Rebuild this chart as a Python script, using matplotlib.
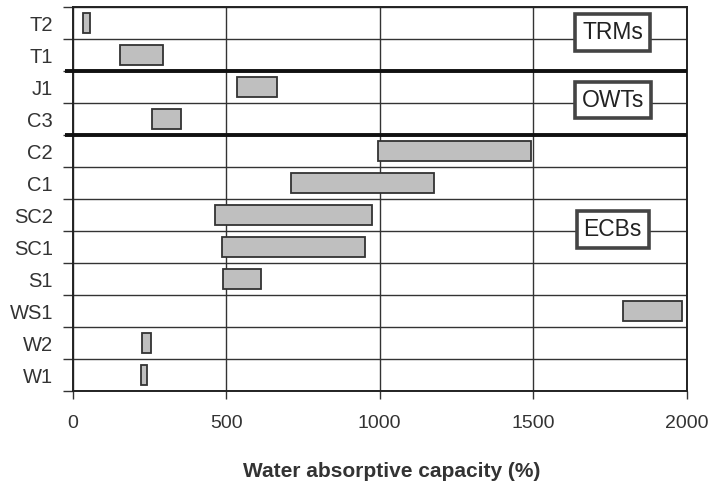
import matplotlib
matplotlib.use("Agg")
import matplotlib.pyplot as plt
from matplotlib.transforms import blended_transform_factory

categories = ["T2", "T1", "J1", "C3", "C2", "C1", "SC2", "SC1", "S1", "WS1", "W2", "W1"]
starts = [35, 155, 537, 260, 995, 711, 463, 485, 490, 1791, 227, 222]
ends = [56, 295, 666, 353, 1493, 1175, 975, 953, 614, 1983, 255, 241]
group_labels = ["TRMs", "OWTs", "ECBs"]
group_label_rows = [0.30, 2.40, 6.46]
group_dividers = [1.5, 3.5]
xticks = [0, 500, 1000, 1500, 2000]

plt.rcParams['font.family'] = ['Liberation Sans', 'DejaVu Sans']

fig = plt.figure(figsize=(7.13, 4.84), dpi=100)
ax = fig.add_axes([0.1017, 0.192, 0.8618, 0.793])

ys = list(range(len(categories)))
widths = [e - s for s, e in zip(starts, ends)]
ax.barh(ys, widths, left=starts, height=0.62, color="#bfbfbf",
        edgecolor="#333333", linewidth=1.3, zorder=3)

ax.set_xlim(0, 2000)
ax.set_ylim(len(categories) - 0.5, -0.5)

ax.set_yticks(ys)
ax.set_yticklabels(categories)
ax.set_yticks([i - 0.5 for i in range(len(categories) + 1)], minor=True)
ax.tick_params(axis='y', which='major', length=0, pad=14, labelsize=14.5, labelcolor="#333333")
ax.tick_params(axis='y', which='minor', length=7, width=1, color="#333333", direction='out')
ax.set_xticks(xticks)
ax.tick_params(axis='x', which='major', length=6, width=1, color="#333333", pad=11,
               labelsize=14, labelcolor="#333333")

ax.grid(True, which='minor', axis='y', color="#333333", linewidth=1.0, zorder=1)
ax.grid(True, which='major', axis='x', color="#333333", linewidth=1.0, zorder=1)
ax.set_axisbelow(True)

for sp in ax.spines.values():
    sp.set_color("#222222")
    sp.set_linewidth(1.4)

trans = blended_transform_factory(ax.transAxes, ax.transData)
for d in group_dividers:
    ax.plot([-0.012, 1.0], [d, d], transform=trans, color="#111111", linewidth=2.8,
            clip_on=False, zorder=4, solid_capstyle='butt')

for lab, r in zip(group_labels, group_label_rows):
    ax.text(1758, r, lab, fontsize=16.5, color="#222222", ha='center', va='center', zorder=6,
            bbox=dict(boxstyle='square,pad=0.3', facecolor='white', edgecolor='#444444',
                      linewidth=2.6))

ax.set_xlabel("Water absorptive capacity (%)", fontsize=15, color="#333333",
              fontweight='bold', va='top')
ax.xaxis.set_label_coords(0.52, -0.185)

fig.savefig("out.png", dpi=100)
